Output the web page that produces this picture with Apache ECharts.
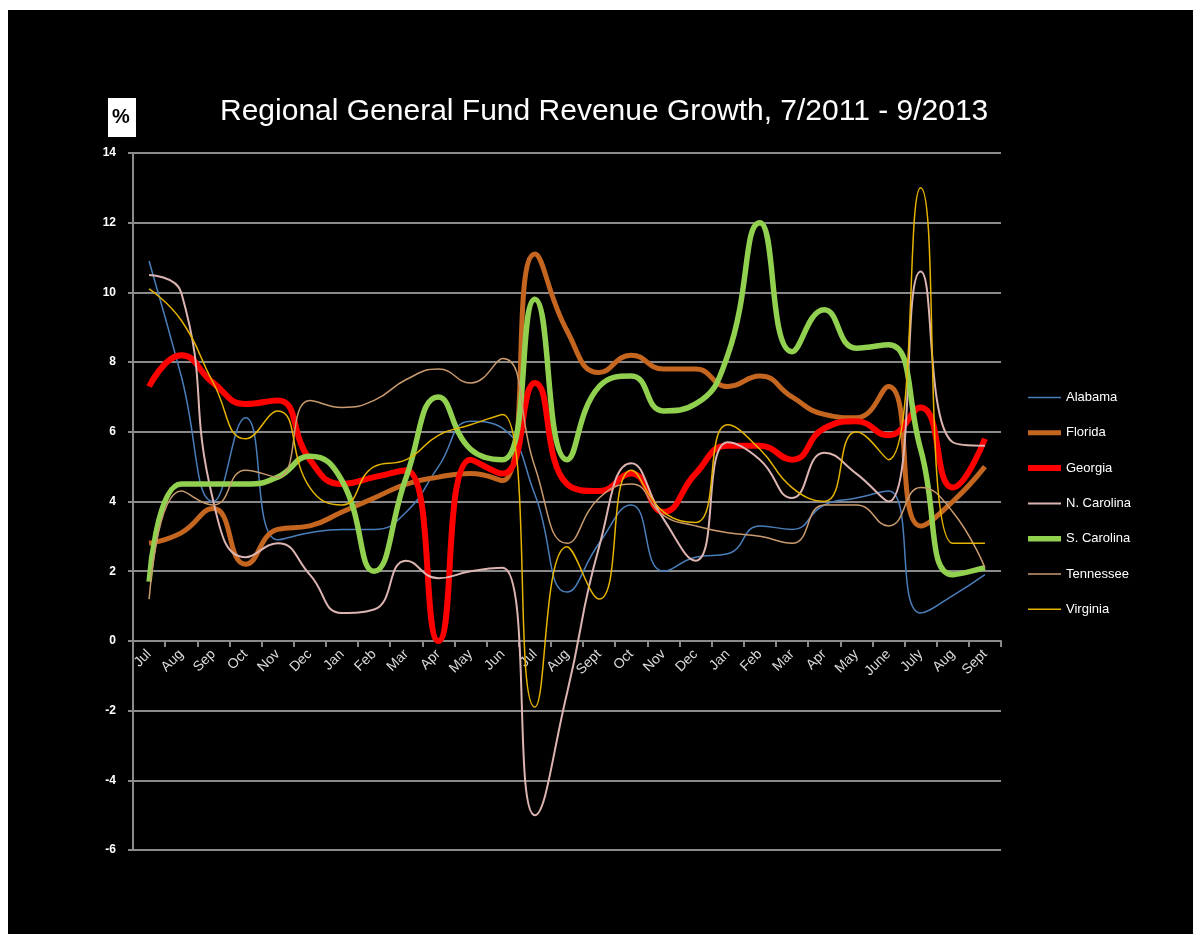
<!DOCTYPE html>
<html lang="en">
<head>
    <meta charset="UTF-8">
    <title>Regional General Fund Revenue Growth</title>
    <script src="https://cdn.jsdelivr.net/npm/echarts/dist/echarts.min.js"></script>
    <style>
        body {
            margin: 0;
            background: #fff;
        }
        #chart {
            position: absolute;
            left: 8px;
            top: 10px;
            width: 1185px;
            height: 924px;
            background: #000;
        }
    </style>
</head>
<body>
<div id="chart"></div>

<script>
    // Months, 7/2011 - 9/2013
    var months = ['Jul', 'Aug', 'Sep', 'Oct', 'Nov', 'Dec', 'Jan', 'Feb', 'Mar', 'Apr', 'May', 'Jun',
        'Jul', 'Aug', 'Sept', 'Oct', 'Nov', 'Dec', 'Jan', 'Feb', 'Mar', 'Apr', 'May', 'June',
        'July', 'Aug', 'Sept'];

    // growth in %
    var alabama = [10.9, 7.6, 4.0, 6.4, 2.9, 3.1, 3.2, 3.2, 3.7, 5.0, 6.3, 6.1,
        4.2, 1.4, 2.8, 3.9, 2.0, 2.4, 2.5, 3.3, 3.2, 3.9, 4.1, 4.3, 0.8, 1.3, 1.9];
    var florida = [2.8, 3.1, 3.8, 2.2, 3.2, 3.3, 3.7, 4.1, 4.5, 4.7, 4.8, 4.6,
        11.1, 8.9, 7.7, 8.2, 7.8, 7.8, 7.3, 7.6, 7.0, 6.5, 6.4, 7.3, 3.3, 4.0, 5.0];
    var georgia = [7.3, 8.2, 7.4, 6.8, 6.9, 5.2, 4.5, 4.7, 4.9, 0.0, 5.2, 4.8,
        7.4, 4.5, 4.3, 4.8, 3.7, 4.8, 5.6, 5.6, 5.2, 6.1, 6.3, 5.9, 6.7, 4.4, 5.8];
    var nCarolina = [10.5, 10.0, 4.0, 2.4, 2.8, 1.9, 0.8, 0.9, 2.3, 1.8, 2.0, 2.1,
        -5.0, -1.5, 2.7, 5.1, 3.5, 2.3, 5.7, 5.2, 4.1, 5.4, 4.8, 4.0, 10.6, 5.7, 5.6];
    var sCarolina = [1.7, 4.5, 4.5, 4.5, 4.7, 5.3, 4.6, 2.0, 4.7, 7.0, 5.5, 5.2,
        9.8, 5.2, 7.3, 7.6, 6.6, 6.8, 8.2, 12.0, 8.3, 9.5, 8.4, 8.5, 5.5, 1.9, 2.1];
    var tennessee = [1.2, 4.3, 3.9, 4.9, 4.7, 6.9, 6.7, 6.9, 7.5, 7.8, 7.4, 8.1,
        5.0, 2.8, 4.1, 4.5, 3.6, 3.3, 3.1, 3.0, 2.8, 3.9, 3.9, 3.3, 4.4, 3.7, 2.1];
    var virginia = [10.1, 9.2, 7.4, 5.8, 6.6, 4.4, 3.9, 5.0, 5.2, 5.9, 6.2, 6.5,
        -1.9, 2.7, 1.2, 4.9, 3.7, 3.4, 6.2, 5.5, 4.4, 4.0, 6.0, 5.2, 13.0, 2.8, 2.8];

    var font = '"Liberation Sans", Arial, sans-serif';
    var gridColor = '#8a8a8a';

    // name, color, line width for each state
    var states = [
        ['Alabama', alabama, '#4a7ebb', 1.5],
        ['Florida', florida, '#c4661f', 5],
        ['Georgia', georgia, '#ff0000', 6],
        ['N. Carolina', nCarolina, '#dcb4b1', 2],
        ['S. Carolina', sCarolina, '#92d050', 5.5],
        ['Tennessee', tennessee, '#c99a6e', 1.5],
        ['Virginia', virginia, '#e6b400', 1.5]
    ];

    var series = states.map(function (s) {
        return {
            name: s[0],
            type: 'line',
            data: s[1],
            smooth: 0.5,
            symbol: 'none',
            lineStyle: { color: s[2], width: s[3] },
            itemStyle: { color: s[2] }
        };
    });

    var legendData = states.map(function (s) {
        return { name: s[0], lineStyle: { color: s[2], width: s[3] } };
    });

    var chart = echarts.init(document.getElementById('chart'));

    var options = {
        animation: false,
        backgroundColor: '#000',
        title: {
            text: 'Regional General Fund Revenue Growth, 7/2011 - 9/2013',
            left: 207,
            top: 82,
            textStyle: { color: '#fff', fontSize: 30, fontWeight: 'normal', fontFamily: font }
        },
        graphic: [
            {
                type: 'rect',
                left: 100,
                top: 88,
                shape: { width: 28, height: 39 },
                style: { fill: '#fff' }
            },
            {
                type: 'text',
                left: 104,
                top: 97,
                style: { text: '%', fill: '#000', font: 'bold 20px ' + font }
            }
        ],
        legend: {
            orient: 'vertical',
            left: 1012,
            top: 376,
            itemWidth: 33,
            itemHeight: 12,
            itemGap: 22.3,
            itemStyle: { opacity: 0 },
            textStyle: { color: '#fff', fontSize: 13, fontFamily: font },
            data: legendData
        },
        grid: {
            left: 125,
            right: 192,
            top: 143,
            bottom: 84
        },
        xAxis: {
            type: 'category',
            data: months,
            boundaryGap: true,
            // labels sit under the zero line, 6 units above the bottom
            offset: -209,
            axisLine: { onZero: false, lineStyle: { color: gridColor, width: 2 } },
            axisTick: { show: true, length: 6, interval: 0, lineStyle: { color: gridColor, width: 2 } },
            axisLabel: {
                interval: 0,
                rotate: 45,
                margin: 11,
                color: '#d9d9d9',
                fontSize: 14,
                fontFamily: font
            },
            splitLine: { show: false }
        },
        yAxis: {
            type: 'value',
            min: -6,
            max: 14,
            interval: 2,
            axisLine: { show: true, lineStyle: { color: gridColor, width: 2 } },
            axisTick: { show: true, length: 5, lineStyle: { color: gridColor, width: 2 } },
            axisLabel: {
                color: '#fff',
                fontSize: 12,
                fontWeight: 'bold',
                fontFamily: font,
                margin: 17
            },
            splitLine: { lineStyle: { color: gridColor, width: 2 } }
        },
        series: series
    };

    chart.setOption(options);
</script>
</body>
</html>
